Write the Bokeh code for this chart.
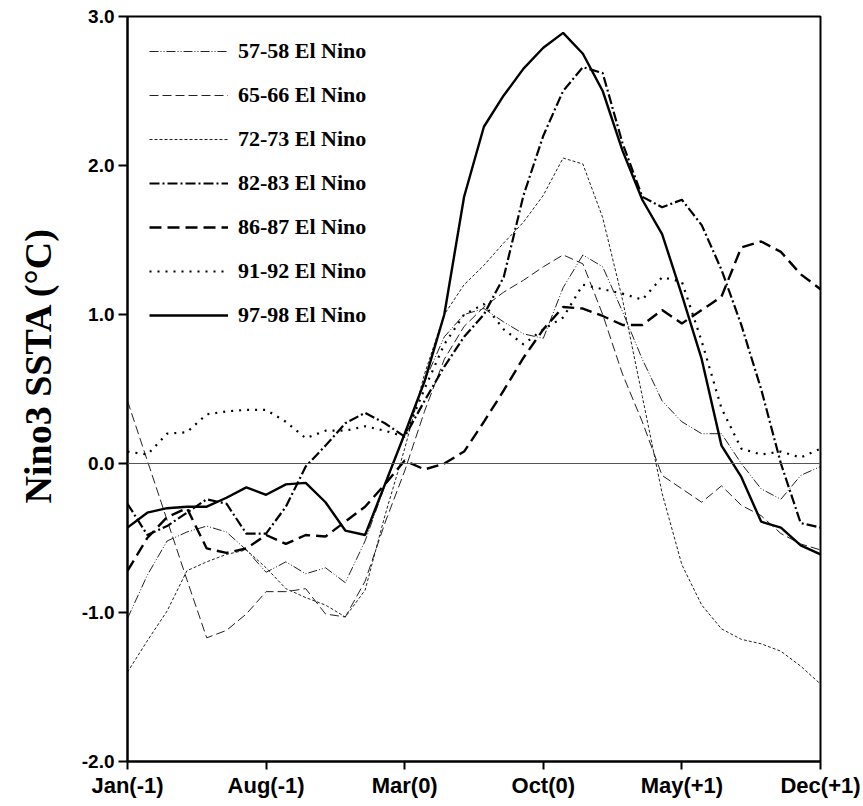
from bokeh.plotting import figure
from bokeh.models import Range1d, FixedTicker, PrintfTickFormatter, Span, Legend, LegendItem
from bokeh.embed import file_html
from bokeh.resources import INLINE

months = list(range(36))
tick_pos = [0, 7, 14, 21, 28, 35]
tick_labels = ["Jan(-1)", "Aug(-1)", "Mar(0)", "Oct(0)", "May(+1)", "Dec(+1)"]
y_ticks = [-2.0, -1.0, 0.0, 1.0, 2.0, 3.0]

s5758 = [-1.04, -0.75, -0.52, -0.46, -0.42, -0.46, -0.58, -0.73, -0.66, -0.74, -0.70, -0.80,
         -0.52, -0.15, 0.20, 0.55, 0.85, 1.00, 1.04, 0.95, 0.87, 0.84, 1.18, 1.40,
         1.32, 1.02, 0.70, 0.42, 0.28, 0.20, 0.20, 0.00, -0.17, -0.24, -0.08, -0.02]
s6566 = [0.42, 0.02, -0.38, -0.78, -1.17, -1.12, -1.01, -0.86, -0.86, -0.84, -1.01, -1.03,
         -0.79, -0.40, -0.05, 0.35, 0.70, 0.92, 1.05, 1.15, 1.23, 1.32, 1.40, 1.34,
         1.00, 0.60, 0.28, -0.08, -0.17, -0.26, -0.15, -0.28, -0.35, -0.47, -0.54, -0.58]
s7273 = [-1.40, -1.19, -0.99, -0.72, -0.66, -0.61, -0.58, -0.70, -0.84, -0.90, -0.95, -1.03,
         -0.85, -0.35, 0.10, 0.60, 1.00, 1.20, 1.33, 1.48, 1.62, 1.80, 2.05, 2.01,
         1.65, 1.10, 0.45, -0.20, -0.68, -0.95, -1.11, -1.18, -1.21, -1.26, -1.36, -1.48]
s8283 = [-0.27, -0.48, -0.42, -0.33, -0.24, -0.27, -0.47, -0.47, -0.29, -0.02, 0.12, 0.27,
         0.34, 0.27, 0.18, 0.42, 0.65, 0.85, 1.00, 1.25, 1.80, 2.20, 2.50, 2.66,
         2.62, 2.15, 1.79, 1.72, 1.77, 1.60, 1.30, 0.93, 0.50, 0.00, -0.40, -0.43]
s8687 = [-0.72, -0.50, -0.36, -0.30, -0.57, -0.60, -0.57, -0.48, -0.54, -0.48, -0.49, -0.39,
         -0.29, -0.14, 0.02, -0.04, 0.00, 0.08, 0.28, 0.49, 0.71, 0.90, 1.05, 1.04,
         0.99, 0.93, 0.93, 1.03, 0.94, 1.03, 1.12, 1.45, 1.49, 1.42, 1.27, 1.17]
s9192 = [0.08, 0.06, 0.20, 0.21, 0.33, 0.35, 0.36, 0.36, 0.28, 0.17, 0.22, 0.22,
         0.25, 0.22, 0.18, 0.50, 0.80, 1.00, 1.07, 0.90, 0.80, 0.90, 0.98, 1.20,
         1.17, 1.14, 1.10, 1.25, 1.22, 0.82, 0.37, 0.10, 0.06, 0.08, 0.04, 0.10]
s9798 = [-0.43, -0.33, -0.30, -0.29, -0.29, -0.23, -0.16, -0.21, -0.14, -0.13, -0.26, -0.45,
         -0.48, -0.14, 0.20, 0.55, 1.00, 1.79, 2.26, 2.47, 2.65, 2.79, 2.89, 2.75,
         2.50, 2.10, 1.77, 1.54, 1.13, 0.70, 0.12, -0.09, -0.39, -0.43, -0.55, -0.61]

series = [
    ("57-58 El Nino", s5758, 1.0, "9 2 1 2 1 2", "#222222"),
    ("65-66 El Nino", s6566, 1.0, "9 4", "#222222"),
    ("72-73 El Nino", s7273, 1.0, "3 2", "#222222"),
    ("82-83 El Nino", s8283, 2.2, "10 3 2 3", "black"),
    ("86-87 El Nino", s8687, 2.4, "12 6", "black"),
    ("91-92 El Nino", s9192, 2.2, "2 6", "black"),
    ("97-98 El Nino", s9798, 2.4, "solid", "black"),
]

p = figure(width=863, height=800, output_backend="svg", toolbar_location=None,
           x_range=Range1d(0, 35), y_range=Range1d(-2.0, 3.0),
           min_border_left=127, min_border_right=43, min_border_top=16, min_border_bottom=39)
p.grid.visible = False
p.outline_line_color = "black"
p.outline_line_width = 2
p.background_fill_color = "white"
p.border_fill_color = "white"

p.add_layout(Span(location=0, dimension="width", line_color="#555555", line_width=1))

items = []
for name, vals, lw, dash, col in series:
    r = p.line(months, vals, line_color=col, line_width=lw, line_dash=dash)
    items.append(LegendItem(label=name, renderers=[r]))

leg = Legend(items=items, location="top_left", border_line_alpha=0, background_fill_alpha=0,
             glyph_width=79, glyph_height=20, label_height=20, spacing=18, padding=22, margin=0,
             label_standoff=10, label_text_font="Liberation Serif", label_text_font_style="bold",
             label_text_font_size="22px", label_text_color="black")
p.add_layout(leg)

p.xaxis.ticker = FixedTicker(ticks=tick_pos)
p.xaxis.major_label_overrides = {t: l for t, l in zip(tick_pos, tick_labels)}
p.xaxis.major_label_text_font = "Liberation Sans"
p.xaxis.major_label_text_font_style = "bold"
p.xaxis.major_label_text_font_size = "22px"
p.xaxis.major_label_text_color = "black"
p.xaxis.minor_tick_line_color = None
p.xaxis.major_tick_out = 8
p.xaxis.major_tick_in = 0
p.xaxis.major_tick_line_width = 2
p.xaxis.axis_line_width = 2
p.xaxis.major_label_standoff = 3

p.yaxis.ticker = FixedTicker(ticks=y_ticks)
p.yaxis.formatter = PrintfTickFormatter(format="%.1f")
p.yaxis.major_label_text_font = "Liberation Sans"
p.yaxis.major_label_text_font_style = "bold"
p.yaxis.major_label_text_font_size = "19px"
p.yaxis.major_label_text_color = "black"
p.yaxis.minor_tick_line_color = None
p.yaxis.major_tick_out = 9
p.yaxis.major_tick_in = 0
p.yaxis.major_tick_line_width = 2
p.yaxis.axis_line_width = 2
p.yaxis.major_label_standoff = 4
p.yaxis.axis_label = "\u00a0" * 5 + "Nino3 SSTA (\u00b0C)"
p.yaxis.axis_label_text_font = "Liberation Serif"
p.yaxis.axis_label_text_font_style = "bold"
p.yaxis.axis_label_text_font_size = "38px"
p.yaxis.axis_label_text_color = "black"
p.yaxis.axis_label_standoff = 20

open("out.html", "w").write(file_html(p, INLINE))
